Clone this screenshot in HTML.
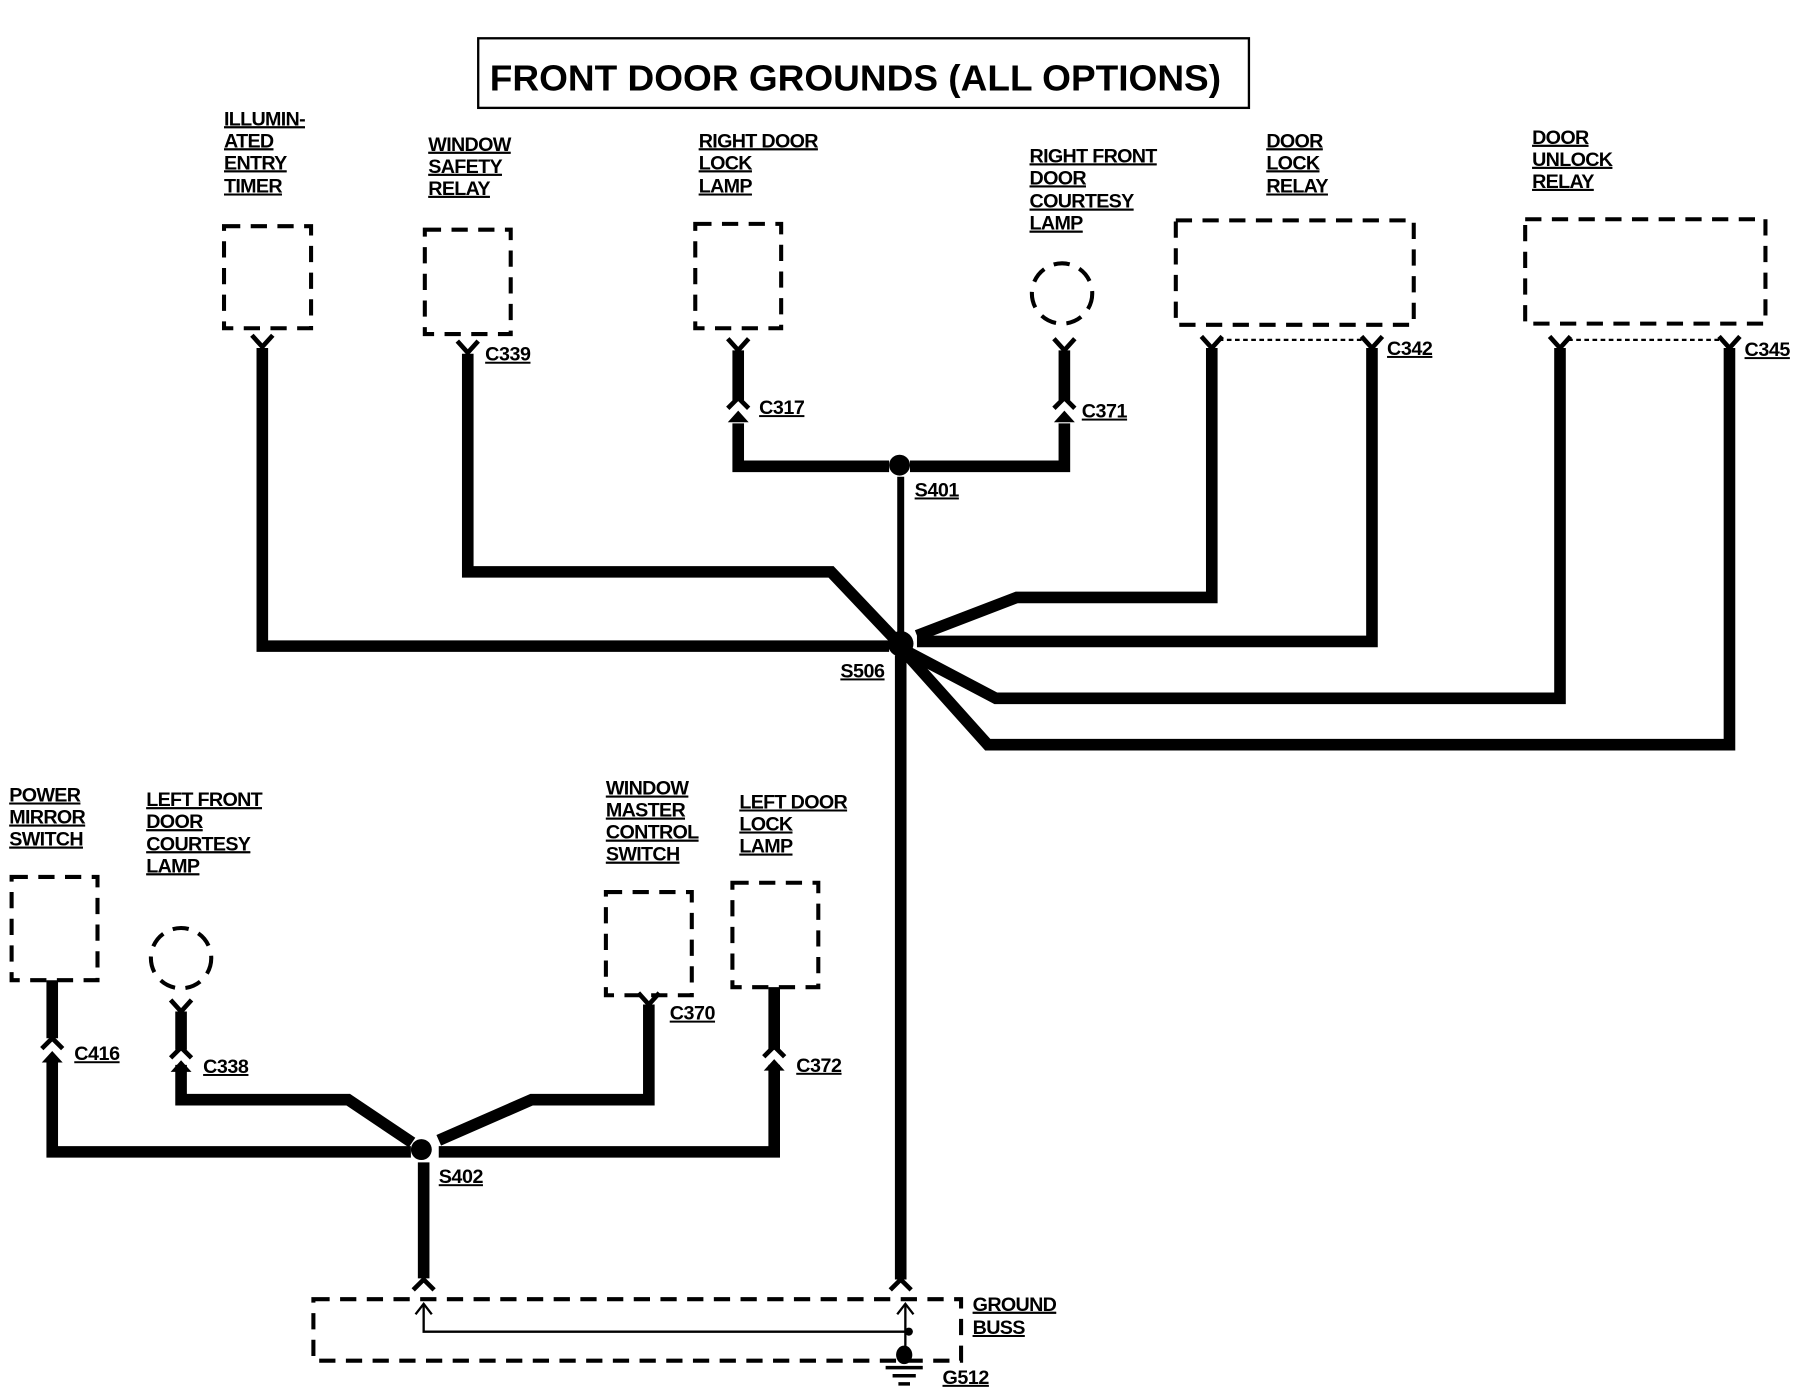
<!DOCTYPE html>
<html><head><meta charset="utf-8"><style>
html,body{margin:0;padding:0;background:#fff}
svg{display:block}
text{font-family:"Liberation Sans",sans-serif;font-weight:bold;fill:#000}
.l{font-size:17px;text-decoration:underline;letter-spacing:-0.6px}
.c{font-size:17px;text-decoration:underline;letter-spacing:-0.4px}
</style></head><body>
<svg width="1820" height="1392" viewBox="0 0 1568 1200" preserveAspectRatio="none" xmlns="http://www.w3.org/2000/svg">
<rect x="0" y="0" width="1568" height="1200" fill="#fff"/>
<rect x="412" y="33" width="664" height="60" fill="none" stroke="#000" stroke-width="2"/>
<text x="422" y="78" font-size="31" textLength="630" lengthAdjust="spacingAndGlyphs">FRONT DOOR GROUNDS  (ALL OPTIONS)</text>

<!-- top labels -->
<g class="l">
<text class="l" x="193" y="108">ILLUMIN-</text><text class="l" x="193" y="127">ATED</text><text class="l" x="193" y="146">ENTRY</text><text class="l" x="193" y="166">TIMER</text>
<text class="l" x="369" y="130">WINDOW</text><text class="l" x="369" y="149">SAFETY</text><text class="l" x="369" y="168">RELAY</text>
<text class="l" x="602" y="127">RIGHT DOOR</text><text class="l" x="602" y="146">LOCK</text><text class="l" x="602" y="166">LAMP</text>
<text class="l" x="887" y="140">RIGHT FRONT</text><text class="l" x="887" y="159">DOOR</text><text class="l" x="887" y="179">COURTESY</text><text class="l" x="887" y="198">LAMP</text>
<text class="l" x="1091" y="127">DOOR</text><text class="l" x="1091" y="146">LOCK</text><text class="l" x="1091" y="166">RELAY</text>
<text class="l" x="1320" y="124">DOOR</text><text class="l" x="1320" y="143">UNLOCK</text><text class="l" x="1320" y="162">RELAY</text>
<text class="l" x="8" y="691">POWER</text><text class="l" x="8" y="710">MIRROR</text><text class="l" x="8" y="729">SWITCH</text>
<text class="l" x="126" y="695">LEFT FRONT</text><text class="l" x="126" y="714">DOOR</text><text class="l" x="126" y="733">COURTESY</text><text class="l" x="126" y="752">LAMP</text>
<text class="l" x="522" y="685">WINDOW</text><text class="l" x="522" y="704">MASTER</text><text class="l" x="522" y="723">CONTROL</text><text class="l" x="522" y="742">SWITCH</text>
<text class="l" x="637" y="697">LEFT DOOR</text><text class="l" x="637" y="716">LOCK</text><text class="l" x="637" y="735">LAMP</text>
<text class="l" x="838" y="1130">GROUND</text><text class="l" x="838" y="1150">BUSS</text>
</g>

<!-- dashed components -->
<g fill="none" stroke="#000" stroke-width="3.5" stroke-dasharray="14,9">
<rect x="193" y="195" width="75" height="88"/>
<rect x="366" y="198" width="74" height="90"/>
<rect x="599" y="193" width="74" height="90"/>
<circle cx="915" cy="253" r="26"/>
<rect x="1013" y="190" width="205" height="90"/>
<rect x="1314" y="189" width="207" height="90"/>
<rect x="10" y="756" width="74" height="89"/>
<circle cx="156" cy="826" r="26"/>
<rect x="522" y="769" width="74" height="89"/>
<rect x="631" y="761" width="74" height="90"/>
<rect x="270" y="1120" width="558" height="53"/>
</g>
<g fill="none" stroke="#000" stroke-width="2" stroke-dasharray="4,3">
<line x1="1050" y1="293" x2="1174" y2="293"/>
<line x1="1351" y1="293" x2="1483" y2="293"/>
</g>

<!-- heavy wires -->
<g fill="none" stroke="#000" stroke-width="10" stroke-linejoin="miter">
<polyline points="226,300 226,557 766,557"/>
<polyline points="403,305 403,493 716,493 770,550"/>
<polyline points="636,365 636,402 766,402"/>
<polyline points="784,402 917,402 917,365"/>
<polyline points="1044,300 1044,515 876,515 790,548"/>
<polyline points="1182,300 1182,553 790,553"/>
<polyline points="1344,300 1344,602 858,602 782,562"/>
<polyline points="1490,300 1490,642 851,642 782,565"/>
<line x1="776" y1="565" x2="776" y2="1103"/>
<line x1="636" y1="302" x2="636" y2="345"/>
<line x1="917" y1="302" x2="917" y2="345"/>
<line x1="45" y1="845" x2="45" y2="895"/>
<line x1="156" y1="872" x2="156" y2="905"/>
<line x1="667" y1="851" x2="667" y2="905"/>
<polyline points="45,915 45,993 354,993"/>
<polyline points="156,918 156,948 300,948 355,985"/>
<polyline points="559,866 559,948 458,948 378,983"/>
<polyline points="667,918 667,993 378,993"/>
<line x1="365" y1="1002" x2="365" y2="1102"/>
</g>
<line x1="776" y1="411" x2="776" y2="545" stroke="#000" stroke-width="6"/>
<circle cx="775" cy="401" r="9"/>
<circle cx="776" cy="555" r="11"/>
<circle cx="363" cy="991" r="9"/>

<!-- female Y connectors -->
<g fill="none" stroke="#000" stroke-width="4">
<path d="M217,289 L226,299 L235,289"/>
<path d="M394,294 L403,304 L412,294"/>
<path d="M627,292 L636,302 L645,292"/>
<path d="M908,292 L917,302 L926,292"/>
<path d="M1035,290 L1044,300 L1053,290"/>
<path d="M1173,290 L1182,300 L1191,290"/>
<path d="M1335,290 L1344,300 L1353,290"/>
<path d="M1481,290 L1490,300 L1499,290"/>
<path d="M147,862 L156,872 L165,862"/>
<path d="M550,856 L559,866 L568,856"/>
<!-- male open chevrons -->
<path d="M627,352 L636,343 L645,352"/>
<path d="M908,352 L917,343 L926,352"/>
<path d="M36,904 L45,895 L54,904"/>
<path d="M147,912 L156,903 L165,912"/>
<path d="M658,911 L667,902 L676,911"/>
<path d="M356,1112 L365,1103 L374,1112"/>
<path d="M767,1112 L776,1103 L785,1112"/>
</g>
<g fill="#000">
<polygon points="627,364 636,354 645,364"/>
<polygon points="908,364 917,354 926,364"/>
<polygon points="36,916 45,906 54,916"/>
<polygon points="147,924 156,914 165,924"/>
<polygon points="658,923 667,913 676,923"/>
</g>

<!-- ground buss internals -->
<g fill="none" stroke="#000" stroke-width="2">
<polyline points="365,1125 365,1148 780,1148"/>
<line x1="780" y1="1125" x2="780" y2="1165"/>
<path d="M358,1133 L365,1124 L372,1133"/>
<path d="M773,1133 L780,1124 L787,1133"/>
</g>
<circle cx="783" cy="1148" r="3.5"/>
<ellipse cx="779" cy="1168" rx="7" ry="8"/>
<g stroke="#000" stroke-width="3">
<line x1="763" y1="1179" x2="795" y2="1179"/>
<line x1="769" y1="1186" x2="789" y2="1186"/>
<line x1="774" y1="1193" x2="784" y2="1193"/>
</g>

<!-- connector / splice labels -->
<text class="c" x="418" y="311">C339</text>
<text class="c" x="654" y="357">C317</text>
<text class="c" x="932" y="360">C371</text>
<text class="c" x="1195" y="306">C342</text>
<text class="c" x="1503" y="307">C345</text>
<text class="c" x="788" y="428">S401</text>
<text class="c" x="724" y="584">S506</text>
<text class="c" x="64" y="914">C416</text>
<text class="c" x="175" y="925">C338</text>
<text class="c" x="577" y="879">C370</text>
<text class="c" x="686" y="924">C372</text>
<text class="c" x="378" y="1020">S402</text>
<text class="c" x="812" y="1193">G512</text>
</svg>
</body></html>
